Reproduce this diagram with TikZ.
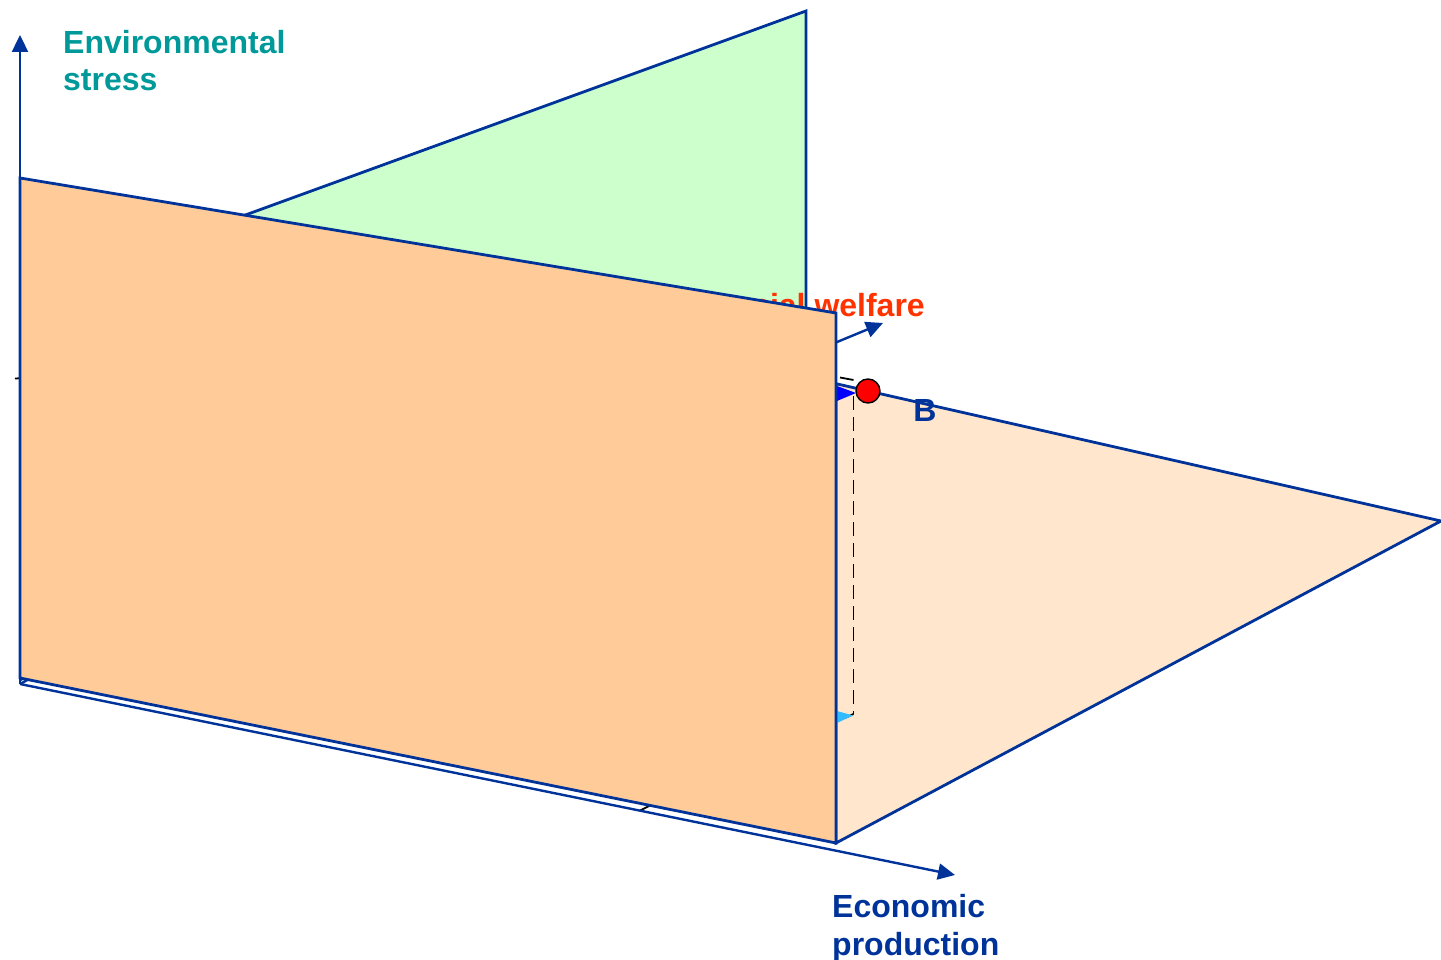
\documentclass[tikz,border=0pt]{standalone}
\usepackage{fontspec}
\setmainfont{Liberation Sans}
\usetikzlibrary{arrows.meta}
\definecolor{edgeblue}{HTML}{003399}
\definecolor{envteal}{HTML}{009999}
\definecolor{socred}{HTML}{FF3300}
\definecolor{frontorange}{HTML}{FFCC99}
\definecolor{floorpeach}{HTML}{FFE6CC}
\definecolor{wallgreen}{HTML}{CCFFCC}
\definecolor{cyanmark}{HTML}{33BBFF}
\tikzset{
  plane/.style={draw=edgeblue, line width=2.8pt, line join=miter},
  axisline/.style={draw=edgeblue, line width=2.4pt, -{Triangle[length=17pt,width=16pt]}},
  dashline/.style={draw=black, line width=1.8pt, dash pattern=on 14pt off 7pt},
  thinmark/.style={draw=black, line width=1.8pt},
  lbl/.style={inner sep=0pt, font=\fontsize{32}{37}\selectfont\bfseries},
}
\begin{document}
\begin{tikzpicture}[x=1pt,y=-1pt]
\useasboundingbox (0,0) rectangle (1441,960);
% coordinates
\coordinate (O) at (20,684);
\coordinate (Otop) at (20,35);
\coordinate (Wo) at (20,680);
\coordinate (Wend) at (883,323);
\coordinate (Eend) at (955,875);
% back green wall
\fill[wallgreen] (806,11) -- (806,360) -- (20,670) -- (20,297) -- cycle;
\draw[plane] (20,297) -- (806,11) -- (806,360);
% social welfare axis and label (behind front plane)
\draw[axisline] (Wo) -- (Wend);
\node[lbl, text=socred, anchor=base east] (sw) at (925,316.5) {Social welfare};
% floor plane
\filldraw[plane, fill=floorpeach] (836,383.7) -- (1441,521) -- (836,843) -- cycle;
% projection lines
\coordinate (Ptop) at (853.5,380);
\coordinate (Pbot) at (853.5,714);
\draw[dashline] (853.5,396) -- (Pbot);
\draw[thinmark] (Ptop) -- (840,377.5);
\draw[thinmark] (Pbot) -- (846,717.5);
\draw[thinmark] (15,378.6) -- (20,378.2);
\draw[thinmark] (640,810.5) -- (651,805);
% markers
\fill[blue] (837,386) -- (856,393) -- (837,401) -- cycle;
\fill[cyanmark] (837,711) -- (853,715.5) -- (837,723) -- cycle;
\filldraw[fill=red, draw=black, line width=1.4pt] (868,391) circle (12pt);
\node[lbl, text=edgeblue, anchor=base] (B) at (925,421.5) {B};
% economic production axis and vertical axis
\draw[axisline] (O) -- (Eend);
\draw[axisline] (O) -- (Otop);
\draw[edgeblue, line width=2.4pt] (O) -- (31,678);
% front orange plane
\filldraw[plane, fill=frontorange] (20,178) -- (836,313) -- (836,843) -- (20,678) -- cycle;
% labels
\node[lbl, text=envteal, anchor=base west] (env1) at (63,54) {Environmental};
\node[lbl, text=envteal, anchor=base west] (env2) at (63,91) {stress};
\node[lbl, text=edgeblue, anchor=base west] (eco1) at (832,917) {Economic};
\node[lbl, text=edgeblue, anchor=base west] (eco2) at (832,955) {production};
\end{tikzpicture}
\end{document}
